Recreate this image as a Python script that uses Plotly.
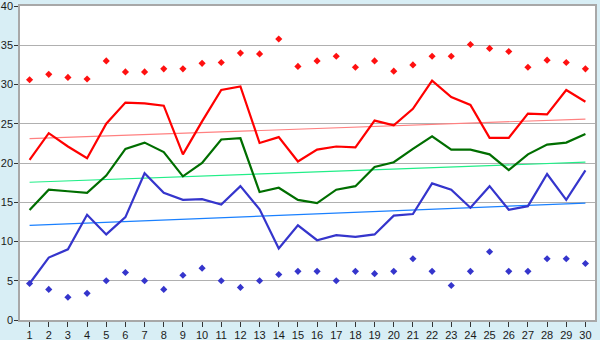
import plotly.graph_objects as go

days = list(range(1, 31))

red_line = [20.4, 23.8, 22.1, 20.6, 25.0, 27.7, 27.6, 27.3, 21.1, 25.3,
            29.3, 29.75, 22.55, 23.3, 20.2, 21.7, 22.1, 22.0, 25.4, 24.8,
            26.9, 30.5, 28.4, 27.4, 23.2, 23.2, 26.3, 26.2, 29.3, 27.8]
red_points = [30.6, 31.3, 30.9, 30.7, 33.0, 31.6, 31.6, 32.0, 32.0, 32.7,
              32.8, 34.0, 33.9, 35.8, 32.3, 33.0, 33.6, 32.2, 33.0, 31.7,
              32.5, 33.6, 33.6, 35.1, 34.6, 34.2, 32.2, 33.1, 32.8, 32.0]
green_line = [14.0, 16.6, 16.4, 16.2, 18.4, 21.8, 22.6, 21.4, 18.3, 20.0,
              23.0, 23.15, 16.3, 16.85, 15.3, 14.9, 16.6, 17.05, 19.5, 20.1,
              21.8, 23.4, 21.7, 21.7, 21.1, 19.1, 21.1, 22.35, 22.6, 23.7]
blue_line = [4.65, 7.95, 9.0, 13.4, 10.9, 13.1, 18.7, 16.2, 15.3, 15.4,
             14.7, 17.05, 14.1, 9.1, 12.06, 10.16, 10.8, 10.6, 10.9, 13.3,
             13.5, 17.4, 16.6, 14.3, 17.05, 14.05, 14.5, 18.6, 15.3, 19.05]
blue_points = [4.65, 3.9, 2.9, 3.4, 5.0, 6.05, 5.0, 3.9, 5.7, 6.6,
               5.0, 4.15, 5.0, 5.8, 6.2, 6.2, 5.0, 6.2, 5.9, 6.2,
               7.8, 6.2, 4.4, 6.2, 8.7, 6.2, 6.2, 7.8, 7.8, 7.2]

trend_x = [1, 30]
red_trend = [23.1, 25.6]
green_trend = [17.55, 20.1]
blue_trend = [12.05, 14.9]

fig = go.Figure()

# trend lines
fig.add_trace(go.Scatter(x=trend_x, y=red_trend, mode="lines",
                         line=dict(color="#ff8080", width=1.2)))
fig.add_trace(go.Scatter(x=trend_x, y=green_trend, mode="lines",
                         line=dict(color="#22ee88", width=1.2)))
fig.add_trace(go.Scatter(x=trend_x, y=blue_trend, mode="lines",
                         line=dict(color="#1a80ff", width=1.2)))

# main lines
fig.add_trace(go.Scatter(x=days, y=red_line, mode="lines",
                         line=dict(color="#ff0000", width=2.2)))
fig.add_trace(go.Scatter(x=days, y=green_line, mode="lines",
                         line=dict(color="#006e00", width=2.2)))
fig.add_trace(go.Scatter(x=days, y=blue_line, mode="lines",
                         line=dict(color="#3535cc", width=2.2)))

# point series
fig.add_trace(go.Scatter(x=days, y=red_points, mode="markers",
                         marker=dict(symbol="diamond", size=5.5, color="#ff1010")))
fig.add_trace(go.Scatter(x=days, y=blue_points, mode="markers",
                         marker=dict(symbol="diamond", size=5.5, color="#3535cc")))

fig.update_layout(
    width=600, height=340,
    margin=dict(l=20, r=5, t=6, b=20, autoexpand=False),
    paper_bgcolor="#d8eef5",
    plot_bgcolor="#ffffff",
    showlegend=False,
    font=dict(family="Liberation Sans", size=11, color="#1a1a1a"),
)
fig.update_xaxes(
    range=[0.5, 30.5], tickmode="array", tickvals=days,
    ticktext=[str(d) for d in days], automargin=False,
    showgrid=False, showline=True, linecolor="#a8a8a8", linewidth=1.5,
    mirror=True, ticks="outside", ticklen=5, tickcolor="#333333",
    ticklabelstandoff=-1, ticklabeloverflow="allow",
    tickfont=dict(size=11), zeroline=False,
)
fig.update_yaxes(
    range=[0, 40], tickmode="array", tickvals=[0, 5, 10, 15, 20, 25, 30, 35, 40],
    automargin=False, ticklabeloverflow="allow", ticklabelstandoff=-1,
    showgrid=True, gridcolor="#b0b0b0", gridwidth=1.2,
    showline=True, linecolor="#a8a8a8", linewidth=1.5, mirror=True,
    ticks="outside", ticklen=4, tickcolor="#333333",
    tickfont=dict(size=11), zeroline=False,
)

fig.write_html("out.html")
